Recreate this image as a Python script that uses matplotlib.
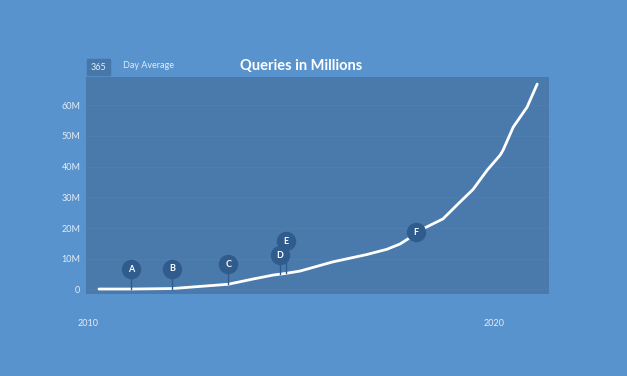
import numpy as np
import matplotlib
matplotlib.use("Agg")
import matplotlib.pyplot as plt
from matplotlib.patches import Rectangle

# queries, 365 day average (millions)
years = [2010.27, 2011.06, 2012.07, 2013.45, 2014.06, 2014.56, 2014.85, 2015.22,
         2016.03, 2016.87, 2017.36, 2017.68, 2017.93, 2018.10, 2018.74, 2019.16,
         2019.48, 2019.83, 2020.15, 2020.22, 2020.47, 2020.81, 2021.06]
queries = [0.15, 0.15, 0.3, 1.7, 3.4, 4.7, 5.2, 6.0,
           9.0, 11.4, 13.1, 14.8, 16.9, 18.8, 23.0, 28.5,
           32.6, 38.9, 43.8, 45.4, 52.9, 59.4, 66.9]

# event markers
event_labels = ["A", "B", "C", "D", "E", "F"]
event_years = [2011.06, 2012.07, 2013.45, 2014.73, 2014.88, 2018.08]

yticks = [0, 10, 20, 30, 40, 50, 60]
ytick_labels = ["0", "10M", "20M", "30M", "40M", "50M", "60M"]
xticks = [2010, 2020]

BG = "#5893ce"
PANEL = "#4a7aab"
DARK = "#2f5c8c"
TXT = "#e3edf8"
plt.rcParams["font.family"] = ["Lato", "DejaVu Sans"]

fig = plt.figure(figsize=(6.27, 3.76), dpi=100, facecolor=BG)
ax = fig.add_axes((86/627, 82/376, 463/627, 217/376))
ax.set_facecolor(PANEL)
for s in ax.spines.values():
    s.set_visible(False)

ax.set_xlim(2009.95, 2021.35)
ax.set_ylim(-1.47, 69.2)
ax.set_yticks(yticks)
ax.set_yticklabels(ytick_labels)
ax.set_xticks(xticks)
ax.tick_params(length=0, colors=TXT, labelsize=6.5, pad=4)
ax.tick_params(axis="x", pad=18)
ax.grid(axis="y", color="#5080b0", linewidth=0.5)
ax.set_axisbelow(True)

ax.plot(years, queries, color="white", lw=2.0, solid_capstyle="round",
        solid_joinstyle="round", zorder=3)

# pins: circle above the line with a thin stem, offsets in pixels
offsets = [20, 20, 20, 19, 32, 0]
for lab, yr, off in zip(event_labels, event_years, offsets):
    yv = np.interp(yr, years, queries)
    ytop = yv + off / 3.07
    if off:
        ax.plot([yr, yr], [yv, ytop], color=DARK, lw=1.0, zorder=4)
    ax.plot(yr, ytop, "o", ms=14, color=DARK, mec="none", zorder=5)
    ax.text(yr, ytop, lab, color="white", fontsize=6.5, fontweight="bold",
            ha="center", va="center", zorder=6)

# header
fig.patches.append(Rectangle((87/627, 1 - 75/376), 23/627, 16/376,
                             transform=fig.transFigure, color="#4777a9"))
fig.text(98.5/627, 1 - 67/376, "365", color=TXT, fontsize=6.5,
         ha="center", va="center")
fig.text(123/627, 1 - 66/376, "Day Average", color=TXT, fontsize=6.5,
         ha="left", va="center")
fig.text(301/627, 1 - 66/376, "Queries in Millions", color="white",
         fontsize=10.5, fontweight="bold", ha="center", va="center")

fig.savefig("out.png", dpi=100, facecolor=BG)
